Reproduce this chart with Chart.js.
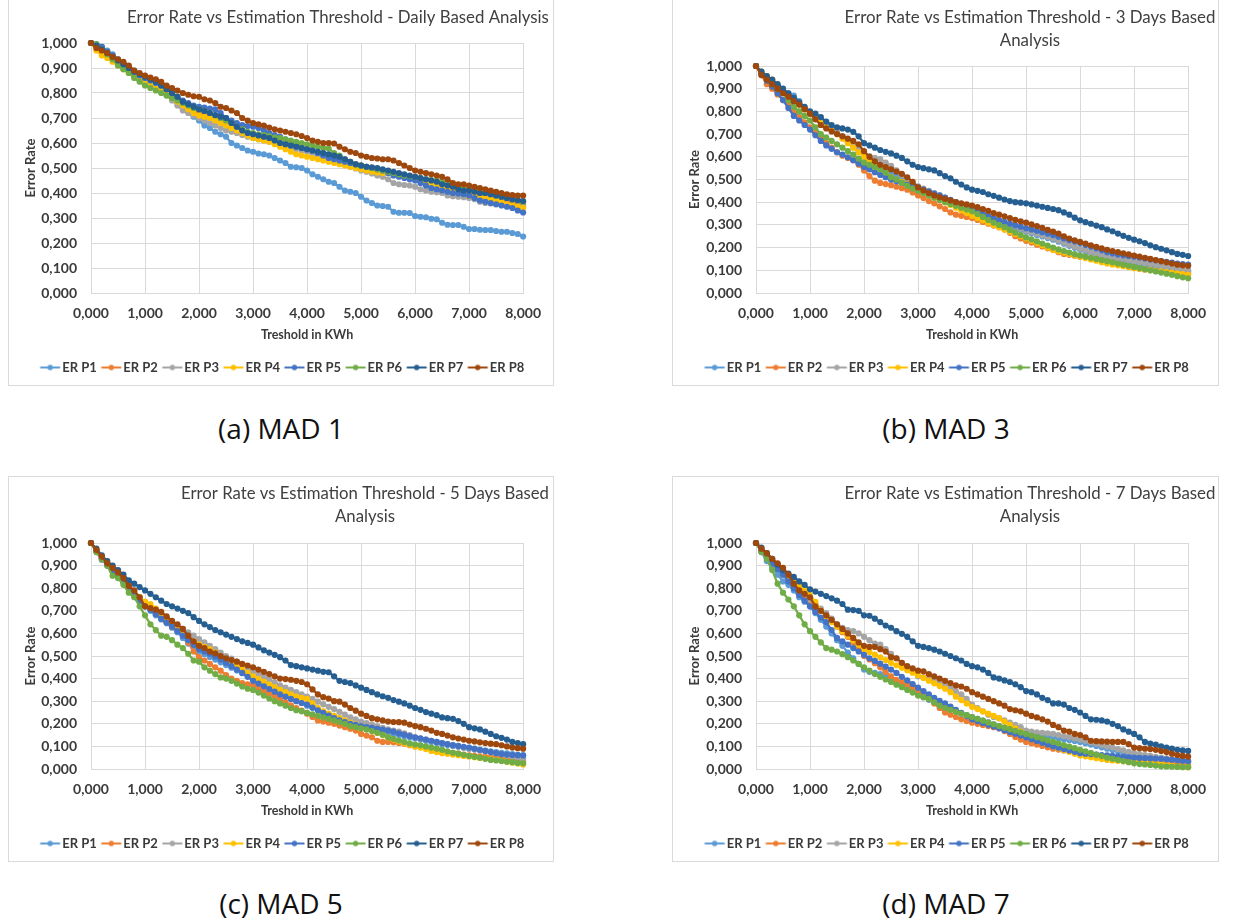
<!DOCTYPE html>
<html><head><meta charset="utf-8">
<script src="https://cdn.jsdelivr.net/npm/chart.js@4.4.1/dist/chart.umd.min.js"></script>
<style>
html,body{margin:0;padding:0;background:#fff;}
body{width:1240px;height:922px;overflow:hidden;position:relative;font-family:Lato,sans-serif}
.box{position:absolute;border:1px solid #d9d9d9;box-sizing:border-box;background:#fff}
.box canvas{position:absolute;left:0;top:0}
.cap{position:absolute;font-family:'Open Sans',sans-serif;font-size:28px;color:#111;transform:translate(-50%,-50%);white-space:nowrap}
</style></head><body>
<div class="box" style="left:8px;top:-1px;width:546px;height:387px"><canvas id="cA" width="544" height="385"></canvas></div>
<div class="box" style="left:672px;top:-1px;width:547px;height:387px"><canvas id="cB" width="545" height="385"></canvas></div>
<div class="box" style="left:8px;top:476px;width:546px;height:386px"><canvas id="cC" width="544" height="384"></canvas></div>
<div class="box" style="left:672px;top:476px;width:547px;height:386px"><canvas id="cD" width="545" height="384"></canvas></div>
<div class="cap" style="left:281px;top:428px">(a) MAD 1</div>
<div class="cap" style="left:946px;top:428px">(b) MAD 3</div>
<div class="cap" style="left:281px;top:903px">(c) MAD 5</div>
<div class="cap" style="left:946px;top:903px">(d) MAD 7</div>
<script>
// ---------- DATA ----------
const thresholds = [0,0.1,0.2,0.3,0.4,0.5,0.6,0.7,0.8,0.9,1,1.1,1.2,1.3,1.4,1.5,1.6,1.7,1.8,1.9,2,2.1,2.2,2.3,2.4,2.5,2.6,2.7,2.8,2.9,3,3.1,3.2,3.3,3.4,3.5,3.6,3.7,3.8,3.9,4,4.1,4.2,4.3,4.4,4.5,4.6,4.7,4.8,4.9,5,5.1,5.2,5.3,5.4,5.5,5.6,5.7,5.8,5.9,6,6.1,6.2,6.3,6.4,6.5,6.6,6.7,6.8,6.9,7,7.1,7.2,7.3,7.4,7.5,7.6,7.7,7.8,7.9,8];
const seriesNames = ['ER P1','ER P2','ER P3','ER P4','ER P5','ER P6','ER P7','ER P8'];
const xTickValues = [0,1,2,3,4,5,6,7,8];
const yTickValues = [0,0.1,0.2,0.3,0.4,0.5,0.6,0.7,0.8,0.9,1];
const titleA = ['Error Rate vs Estimation Threshold - Daily Based Analysis'];
const titleB = ['Error Rate vs Estimation Threshold - 3 Days Based','Analysis'];
const titleC = ['Error Rate vs Estimation Threshold - 5 Days Based','Analysis'];
const titleD = ['Error Rate vs Estimation Threshold - 7 Days Based','Analysis'];
const xAxisTitle = 'Treshold in KWh';
const yAxisTitle = 'Error Rate';

// MAD 1 (daily)
const mad1_p1 = [1.000,0.995,0.985,0.970,0.955,0.935,0.920,0.905,0.890,0.875,
0.860,0.850,0.835,0.820,0.805,0.790,0.770,0.745,0.725,0.705,
0.690,0.670,0.660,0.645,0.635,0.625,0.600,0.590,0.580,0.570,
0.565,0.558,0.555,0.550,0.540,0.530,0.520,0.505,0.503,0.500,
0.490,0.475,0.465,0.455,0.445,0.440,0.425,0.410,0.405,0.400,
0.385,0.370,0.360,0.350,0.348,0.345,0.325,0.321,0.321,0.320,
0.308,0.305,0.303,0.297,0.295,0.281,0.273,0.272,0.272,0.265,
0.256,0.256,0.253,0.252,0.252,0.248,0.245,0.245,0.240,0.236,0.226];
const mad1_p2 = [1.000,0.985,0.970,0.955,0.938,0.920,0.905,0.890,0.878,0.866,
0.855,0.845,0.835,0.822,0.805,0.785,0.770,0.755,0.742,0.730,
0.720,0.712,0.705,0.698,0.690,0.680,0.665,0.655,0.645,0.637,
0.630,0.625,0.620,0.615,0.608,0.600,0.595,0.588,0.580,0.575,
0.570,0.565,0.560,0.555,0.550,0.545,0.538,0.530,0.522,0.515,
0.510,0.505,0.500,0.495,0.490,0.485,0.480,0.475,0.470,0.465,
0.460,0.455,0.450,0.443,0.435,0.430,0.425,0.420,0.415,0.408,
0.400,0.395,0.390,0.385,0.380,0.375,0.370,0.365,0.360,0.358,0.355];
const mad1_p3 = [1.000,0.985,0.970,0.955,0.940,0.920,0.905,0.890,0.875,0.862,
0.850,0.835,0.820,0.805,0.790,0.770,0.750,0.730,0.720,0.710,
0.700,0.690,0.680,0.670,0.660,0.650,0.645,0.640,0.632,0.625,
0.620,0.615,0.610,0.605,0.600,0.595,0.590,0.582,0.575,0.570,
0.565,0.558,0.550,0.542,0.535,0.530,0.522,0.512,0.505,0.498,
0.490,0.485,0.478,0.470,0.465,0.455,0.440,0.435,0.432,0.430,
0.425,0.415,0.410,0.405,0.403,0.400,0.390,0.387,0.385,0.383,
0.380,0.375,0.365,0.360,0.358,0.355,0.352,0.350,0.348,0.346,0.345];
const mad1_p4 = [1.000,0.970,0.950,0.940,0.925,0.910,0.895,0.880,0.870,0.860,
0.850,0.840,0.830,0.815,0.795,0.780,0.765,0.750,0.735,0.720,
0.710,0.705,0.700,0.690,0.680,0.670,0.660,0.650,0.640,0.630,
0.620,0.615,0.610,0.605,0.595,0.585,0.575,0.565,0.555,0.550,
0.545,0.540,0.535,0.530,0.525,0.520,0.515,0.510,0.505,0.500,
0.495,0.490,0.485,0.482,0.480,0.480,0.475,0.470,0.465,0.460,
0.455,0.450,0.445,0.440,0.430,0.420,0.410,0.405,0.400,0.395,
0.390,0.385,0.382,0.378,0.374,0.370,0.362,0.355,0.350,0.345,0.340];
const mad1_p5 = [1.000,0.995,0.985,0.965,0.950,0.930,0.915,0.900,0.885,0.870,
0.860,0.850,0.840,0.830,0.815,0.800,0.785,0.770,0.760,0.750,
0.745,0.742,0.738,0.735,0.720,0.700,0.690,0.680,0.672,0.668,
0.665,0.660,0.650,0.640,0.632,0.625,0.615,0.600,0.590,0.582,
0.575,0.570,0.560,0.550,0.540,0.535,0.530,0.525,0.520,0.515,
0.510,0.505,0.500,0.495,0.490,0.480,0.470,0.465,0.460,0.455,
0.450,0.440,0.430,0.420,0.415,0.410,0.405,0.400,0.398,0.395,
0.390,0.380,0.370,0.365,0.360,0.355,0.350,0.345,0.340,0.330,0.322];
const mad1_p6 = [1.000,0.995,0.975,0.955,0.935,0.910,0.895,0.880,0.860,0.845,
0.830,0.820,0.810,0.800,0.790,0.780,0.770,0.760,0.750,0.740,
0.735,0.728,0.720,0.710,0.700,0.690,0.680,0.665,0.655,0.645,
0.640,0.635,0.632,0.628,0.622,0.620,0.615,0.610,0.605,0.600,
0.595,0.590,0.585,0.580,0.578,0.560,0.550,0.535,0.525,0.515,
0.510,0.505,0.500,0.495,0.490,0.485,0.480,0.475,0.470,0.468,
0.465,0.460,0.455,0.452,0.450,0.445,0.440,0.430,0.425,0.420,
0.415,0.410,0.405,0.400,0.395,0.390,0.385,0.380,0.375,0.370,0.365];
const mad1_p7 = [1.000,0.990,0.975,0.960,0.945,0.930,0.915,0.900,0.885,0.875,
0.865,0.855,0.845,0.830,0.815,0.800,0.785,0.765,0.755,0.745,
0.735,0.728,0.720,0.712,0.705,0.700,0.680,0.665,0.650,0.640,
0.635,0.630,0.625,0.620,0.610,0.600,0.595,0.590,0.585,0.580,
0.575,0.570,0.565,0.560,0.555,0.550,0.545,0.535,0.525,0.515,
0.510,0.505,0.503,0.500,0.495,0.490,0.485,0.480,0.475,0.470,
0.465,0.460,0.455,0.450,0.445,0.435,0.430,0.425,0.415,0.410,
0.410,0.405,0.400,0.400,0.395,0.390,0.385,0.380,0.375,0.372,0.368];
const mad1_p8 = [1.000,0.980,0.970,0.960,0.945,0.935,0.925,0.910,0.890,0.880,
0.870,0.862,0.855,0.845,0.830,0.820,0.810,0.800,0.793,0.787,
0.785,0.775,0.770,0.760,0.745,0.740,0.730,0.720,0.700,0.690,
0.680,0.675,0.670,0.662,0.655,0.650,0.645,0.640,0.635,0.628,
0.620,0.610,0.605,0.600,0.600,0.598,0.585,0.575,0.565,0.560,
0.550,0.545,0.540,0.538,0.535,0.535,0.530,0.520,0.510,0.500,
0.490,0.485,0.480,0.475,0.470,0.465,0.455,0.440,0.435,0.435,
0.430,0.425,0.420,0.415,0.410,0.405,0.400,0.395,0.392,0.390,0.390];

// MAD 3
const mad3_p1 = [1.000,0.970,0.950,0.935,0.915,0.890,0.880,0.870,0.845,0.815,
0.790,0.775,0.760,0.745,0.728,0.710,0.690,0.665,0.645,0.622,
0.600,0.585,0.572,0.558,0.544,0.530,0.516,0.502,0.488,0.474,
0.460,0.451,0.442,0.433,0.424,0.415,0.404,0.393,0.382,0.371,
0.360,0.350,0.340,0.330,0.320,0.310,0.302,0.294,0.286,0.278,
0.270,0.263,0.256,0.249,0.242,0.235,0.226,0.217,0.208,0.199,
0.190,0.183,0.176,0.169,0.162,0.155,0.150,0.145,0.140,0.135,
0.130,0.126,0.122,0.118,0.114,0.110,0.107,0.104,0.101,0.098,0.095];
const mad3_p2 = [1.000,0.960,0.920,0.900,0.875,0.850,0.825,0.800,0.775,0.752,
0.730,0.705,0.685,0.660,0.640,0.620,0.605,0.595,0.585,0.565,
0.540,0.515,0.495,0.485,0.480,0.475,0.468,0.462,0.455,0.443,
0.430,0.418,0.405,0.395,0.382,0.370,0.355,0.345,0.340,0.335,
0.330,0.322,0.313,0.305,0.297,0.290,0.280,0.265,0.250,0.240,
0.230,0.222,0.213,0.205,0.197,0.190,0.180,0.172,0.168,0.164,
0.160,0.156,0.152,0.148,0.144,0.140,0.135,0.128,0.120,0.115,
0.110,0.107,0.104,0.101,0.098,0.095,0.092,0.090,0.088,0.086,0.085];
const mad3_p3 = [1.000,0.975,0.955,0.935,0.910,0.890,0.870,0.850,0.830,0.810,
0.790,0.775,0.760,0.745,0.728,0.710,0.690,0.670,0.650,0.630,
0.610,0.603,0.595,0.590,0.575,0.560,0.540,0.520,0.500,0.485,
0.470,0.460,0.450,0.440,0.430,0.420,0.409,0.398,0.387,0.376,
0.365,0.356,0.347,0.338,0.329,0.320,0.311,0.302,0.293,0.284,
0.275,0.268,0.261,0.254,0.247,0.240,0.231,0.222,0.213,0.204,
0.195,0.188,0.181,0.174,0.167,0.160,0.156,0.152,0.148,0.144,
0.140,0.136,0.132,0.128,0.124,0.120,0.116,0.112,0.108,0.104,0.100];
const mad3_p4 = [1.000,0.975,0.955,0.940,0.915,0.890,0.870,0.850,0.830,0.810,
0.790,0.770,0.750,0.730,0.715,0.700,0.680,0.660,0.640,0.620,
0.600,0.582,0.565,0.547,0.528,0.510,0.500,0.490,0.480,0.470,
0.460,0.448,0.436,0.424,0.412,0.400,0.388,0.376,0.364,0.352,
0.340,0.330,0.320,0.310,0.300,0.290,0.280,0.270,0.260,0.250,
0.240,0.230,0.220,0.210,0.200,0.190,0.184,0.178,0.172,0.166,
0.160,0.154,0.148,0.142,0.136,0.130,0.126,0.122,0.118,0.114,
0.110,0.107,0.104,0.101,0.098,0.095,0.092,0.089,0.086,0.083,0.080];
const mad3_p5 = [1.000,0.965,0.935,0.910,0.880,0.850,0.815,0.780,0.760,0.740,
0.720,0.695,0.670,0.650,0.635,0.620,0.610,0.598,0.585,0.570,
0.555,0.545,0.532,0.520,0.510,0.500,0.492,0.485,0.478,0.472,
0.465,0.455,0.447,0.438,0.430,0.420,0.410,0.400,0.390,0.380,
0.370,0.360,0.350,0.340,0.330,0.320,0.313,0.305,0.298,0.292,
0.285,0.280,0.274,0.268,0.262,0.255,0.248,0.240,0.233,0.227,
0.220,0.212,0.204,0.196,0.188,0.180,0.175,0.170,0.166,0.163,
0.160,0.156,0.152,0.148,0.144,0.140,0.137,0.134,0.130,0.127,0.125];
const mad3_p6 = [1.000,0.970,0.945,0.920,0.900,0.880,0.850,0.820,0.800,0.780,
0.760,0.730,0.700,0.685,0.670,0.655,0.640,0.625,0.610,0.592,
0.575,0.565,0.555,0.545,0.530,0.510,0.500,0.485,0.472,0.460,
0.450,0.440,0.430,0.420,0.410,0.400,0.392,0.384,0.376,0.368,
0.360,0.348,0.335,0.322,0.310,0.300,0.290,0.278,0.266,0.255,
0.245,0.236,0.227,0.218,0.209,0.200,0.192,0.185,0.178,0.171,
0.165,0.160,0.155,0.150,0.145,0.140,0.135,0.130,0.125,0.120,
0.115,0.110,0.105,0.100,0.095,0.090,0.085,0.080,0.074,0.069,0.065];
const mad3_p7 = [1.000,0.975,0.955,0.940,0.920,0.900,0.880,0.860,0.840,0.820,
0.800,0.790,0.775,0.755,0.740,0.730,0.725,0.720,0.710,0.690,
0.660,0.650,0.640,0.630,0.622,0.615,0.605,0.595,0.580,0.565,
0.555,0.550,0.545,0.540,0.528,0.515,0.505,0.490,0.478,0.465,
0.455,0.450,0.445,0.435,0.428,0.420,0.412,0.405,0.400,0.398,
0.395,0.390,0.385,0.380,0.375,0.370,0.365,0.355,0.345,0.332,
0.320,0.312,0.305,0.297,0.290,0.280,0.272,0.262,0.252,0.243,
0.235,0.228,0.220,0.210,0.202,0.195,0.188,0.180,0.172,0.168,0.163];
const mad3_p8 = [1.000,0.960,0.940,0.920,0.900,0.880,0.865,0.845,0.830,0.810,
0.790,0.765,0.740,0.725,0.712,0.700,0.690,0.680,0.670,0.655,
0.625,0.600,0.580,0.565,0.555,0.545,0.535,0.525,0.510,0.490,
0.465,0.452,0.440,0.430,0.422,0.415,0.408,0.400,0.395,0.390,
0.385,0.378,0.370,0.362,0.352,0.345,0.338,0.330,0.322,0.316,
0.310,0.302,0.295,0.287,0.278,0.270,0.262,0.250,0.240,0.232,
0.225,0.218,0.210,0.203,0.197,0.190,0.185,0.180,0.175,0.170,
0.165,0.160,0.155,0.150,0.145,0.140,0.135,0.130,0.125,0.122,0.120];

// MAD 5
const mad5_p1 = [1.000,0.970,0.935,0.905,0.880,0.855,0.830,0.800,0.770,0.745,
0.720,0.700,0.680,0.662,0.645,0.625,0.605,0.580,0.555,0.535,
0.520,0.508,0.496,0.484,0.472,0.460,0.448,0.436,0.424,0.412,
0.400,0.388,0.376,0.364,0.352,0.340,0.328,0.316,0.304,0.292,
0.280,0.271,0.262,0.253,0.244,0.235,0.225,0.215,0.205,0.195,
0.185,0.180,0.175,0.170,0.165,0.160,0.155,0.150,0.145,0.140,
0.135,0.130,0.125,0.120,0.115,0.110,0.106,0.102,0.098,0.094,
0.090,0.087,0.084,0.081,0.078,0.075,0.072,0.069,0.066,0.063,0.060];
const mad5_p2 = [1.000,0.965,0.935,0.910,0.885,0.860,0.835,0.810,0.785,0.760,
0.740,0.720,0.695,0.670,0.650,0.630,0.615,0.600,0.560,0.520,
0.495,0.480,0.465,0.450,0.435,0.415,0.400,0.390,0.380,0.375,
0.370,0.358,0.345,0.335,0.322,0.310,0.295,0.282,0.270,0.258,
0.245,0.230,0.215,0.210,0.205,0.200,0.192,0.185,0.178,0.170,
0.155,0.148,0.140,0.125,0.120,0.120,0.118,0.115,0.112,0.105,
0.100,0.097,0.093,0.090,0.085,0.080,0.076,0.072,0.068,0.064,
0.060,0.058,0.056,0.054,0.052,0.050,0.047,0.044,0.041,0.038,0.035];
const mad5_p3 = [1.000,0.960,0.925,0.905,0.880,0.860,0.830,0.810,0.785,0.760,
0.730,0.715,0.700,0.690,0.670,0.650,0.635,0.620,0.605,0.590,
0.575,0.560,0.545,0.530,0.515,0.500,0.488,0.475,0.462,0.448,
0.430,0.420,0.408,0.396,0.383,0.370,0.360,0.350,0.340,0.330,
0.320,0.310,0.298,0.286,0.275,0.265,0.253,0.241,0.229,0.220,
0.210,0.203,0.196,0.189,0.182,0.175,0.170,0.165,0.158,0.150,
0.140,0.135,0.130,0.125,0.120,0.115,0.110,0.105,0.100,0.095,
0.090,0.086,0.082,0.078,0.074,0.070,0.065,0.060,0.055,0.050,0.045];
const mad5_p4 = [1.000,0.965,0.940,0.920,0.890,0.860,0.835,0.810,0.785,0.760,
0.740,0.730,0.710,0.685,0.660,0.640,0.620,0.600,0.580,0.565,
0.550,0.540,0.530,0.515,0.495,0.480,0.468,0.455,0.440,0.425,
0.410,0.398,0.386,0.374,0.362,0.350,0.340,0.330,0.320,0.315,
0.310,0.290,0.270,0.255,0.245,0.235,0.225,0.215,0.205,0.198,
0.190,0.180,0.170,0.160,0.150,0.140,0.130,0.122,0.114,0.107,
0.100,0.095,0.088,0.080,0.075,0.070,0.067,0.064,0.061,0.058,
0.055,0.052,0.049,0.046,0.043,0.040,0.036,0.032,0.028,0.024,0.020];
const mad5_p5 = [1.000,0.965,0.930,0.900,0.875,0.850,0.825,0.800,0.770,0.745,
0.720,0.705,0.685,0.665,0.648,0.630,0.610,0.590,0.570,0.550,
0.530,0.520,0.510,0.498,0.485,0.470,0.455,0.440,0.425,0.408,
0.390,0.378,0.366,0.354,0.342,0.330,0.320,0.310,0.300,0.292,
0.285,0.272,0.260,0.248,0.236,0.225,0.215,0.208,0.200,0.195,
0.190,0.185,0.182,0.178,0.174,0.170,0.165,0.158,0.152,0.146,
0.140,0.136,0.130,0.125,0.120,0.115,0.110,0.106,0.102,0.098,
0.095,0.090,0.085,0.080,0.075,0.070,0.066,0.064,0.062,0.061,0.060];
const mad5_p6 = [1.000,0.960,0.930,0.900,0.855,0.845,0.815,0.780,0.760,0.720,
0.680,0.640,0.615,0.590,0.585,0.570,0.550,0.535,0.510,0.480,
0.475,0.450,0.435,0.420,0.405,0.400,0.390,0.378,0.365,0.355,
0.350,0.338,0.325,0.312,0.300,0.290,0.280,0.270,0.260,0.255,
0.248,0.242,0.235,0.228,0.222,0.215,0.208,0.200,0.190,0.185,
0.180,0.175,0.168,0.160,0.152,0.140,0.133,0.126,0.120,0.113,
0.108,0.105,0.100,0.095,0.090,0.085,0.078,0.072,0.068,0.063,
0.058,0.054,0.050,0.045,0.040,0.038,0.035,0.032,0.030,0.027,0.025];
const mad5_p7 = [1.000,0.975,0.945,0.920,0.900,0.880,0.860,0.835,0.820,0.805,
0.790,0.775,0.760,0.745,0.730,0.720,0.710,0.700,0.690,0.672,
0.655,0.640,0.628,0.615,0.605,0.595,0.585,0.575,0.565,0.558,
0.550,0.538,0.525,0.515,0.505,0.495,0.480,0.460,0.455,0.450,
0.445,0.440,0.435,0.430,0.428,0.410,0.390,0.385,0.380,0.370,
0.360,0.350,0.340,0.330,0.322,0.315,0.305,0.298,0.290,0.280,
0.270,0.262,0.252,0.245,0.238,0.228,0.225,0.222,0.212,0.200,
0.185,0.180,0.175,0.165,0.155,0.145,0.138,0.130,0.120,0.115,0.110];
const mad5_p8 = [1.000,0.970,0.940,0.910,0.890,0.870,0.845,0.810,0.790,0.760,
0.720,0.712,0.705,0.695,0.675,0.655,0.640,0.620,0.590,0.565,
0.545,0.535,0.520,0.512,0.500,0.490,0.482,0.475,0.465,0.458,
0.450,0.440,0.430,0.420,0.410,0.400,0.398,0.395,0.390,0.385,
0.375,0.352,0.330,0.318,0.312,0.300,0.298,0.285,0.270,0.258,
0.245,0.235,0.225,0.220,0.215,0.210,0.208,0.207,0.205,0.197,
0.190,0.185,0.178,0.170,0.160,0.155,0.148,0.140,0.135,0.130,
0.125,0.122,0.118,0.115,0.112,0.110,0.105,0.100,0.095,0.092,0.090];

// MAD 7
const mad7_p1 = [1.000,0.960,0.920,0.890,0.860,0.830,0.815,0.790,0.760,0.740,
0.720,0.690,0.660,0.630,0.600,0.570,0.545,0.515,0.490,0.465,
0.440,0.430,0.425,0.420,0.410,0.400,0.386,0.372,0.358,0.344,
0.330,0.318,0.306,0.294,0.282,0.270,0.262,0.254,0.246,0.238,
0.230,0.222,0.214,0.206,0.198,0.190,0.184,0.178,0.172,0.166,
0.160,0.156,0.152,0.148,0.144,0.140,0.136,0.132,0.128,0.124,
0.120,0.114,0.108,0.102,0.096,0.090,0.084,0.078,0.072,0.066,
0.060,0.057,0.054,0.051,0.048,0.045,0.042,0.039,0.036,0.033,0.030];
const mad7_p2 = [1.000,0.970,0.945,0.920,0.890,0.860,0.840,0.810,0.785,0.762,
0.740,0.720,0.700,0.680,0.655,0.630,0.605,0.585,0.560,0.530,
0.500,0.485,0.468,0.450,0.430,0.410,0.395,0.385,0.370,0.360,
0.350,0.330,0.310,0.290,0.270,0.250,0.240,0.230,0.220,0.212,
0.205,0.200,0.195,0.190,0.185,0.180,0.168,0.155,0.142,0.130,
0.120,0.114,0.108,0.102,0.096,0.090,0.086,0.082,0.078,0.074,
0.070,0.066,0.062,0.058,0.054,0.050,0.047,0.044,0.041,0.038,
0.035,0.033,0.031,0.029,0.027,0.025,0.023,0.021,0.019,0.017,0.015];
const mad7_p3 = [1.000,0.975,0.950,0.925,0.900,0.880,0.855,0.825,0.800,0.775,
0.750,0.730,0.710,0.690,0.665,0.640,0.625,0.615,0.610,0.600,
0.585,0.570,0.555,0.550,0.530,0.510,0.490,0.470,0.450,0.430,
0.410,0.405,0.400,0.392,0.380,0.370,0.360,0.345,0.330,0.310,
0.285,0.270,0.255,0.240,0.230,0.225,0.215,0.205,0.195,0.185,
0.170,0.165,0.162,0.160,0.158,0.155,0.150,0.145,0.140,0.135,
0.130,0.125,0.118,0.112,0.106,0.100,0.095,0.088,0.082,0.076,
0.070,0.066,0.062,0.058,0.054,0.050,0.047,0.044,0.041,0.038,0.035];
const mad7_p4 = [1.000,0.970,0.945,0.920,0.895,0.870,0.850,0.830,0.810,0.790,
0.770,0.740,0.700,0.675,0.650,0.630,0.610,0.590,0.570,0.550,
0.530,0.518,0.506,0.494,0.482,0.470,0.459,0.448,0.437,0.426,
0.415,0.403,0.391,0.379,0.367,0.355,0.340,0.320,0.305,0.290,
0.275,0.265,0.255,0.245,0.235,0.225,0.210,0.195,0.180,0.165,
0.150,0.140,0.130,0.120,0.110,0.100,0.092,0.084,0.076,0.068,
0.060,0.056,0.052,0.048,0.044,0.040,0.038,0.036,0.034,0.032,
0.030,0.028,0.026,0.024,0.022,0.020,0.017,0.014,0.011,0.009,0.008];
const mad7_p5 = [1.000,0.965,0.935,0.910,0.885,0.860,0.830,0.800,0.770,0.745,
0.720,0.695,0.670,0.650,0.615,0.580,0.565,0.550,0.535,0.520,
0.505,0.490,0.478,0.466,0.453,0.440,0.425,0.408,0.392,0.376,
0.360,0.345,0.330,0.315,0.302,0.290,0.276,0.262,0.248,0.234,
0.220,0.212,0.204,0.196,0.188,0.180,0.172,0.164,0.156,0.148,
0.140,0.132,0.124,0.116,0.108,0.100,0.094,0.088,0.082,0.076,
0.070,0.068,0.066,0.064,0.062,0.060,0.058,0.056,0.054,0.052,
0.050,0.049,0.048,0.047,0.046,0.045,0.043,0.041,0.039,0.037,0.035];
const mad7_p6 = [1.000,0.960,0.930,0.880,0.820,0.780,0.750,0.720,0.680,0.640,
0.610,0.585,0.560,0.535,0.528,0.520,0.508,0.495,0.480,0.465,
0.450,0.435,0.420,0.408,0.396,0.385,0.373,0.362,0.350,0.338,
0.325,0.318,0.310,0.295,0.280,0.270,0.262,0.253,0.245,0.238,
0.230,0.222,0.214,0.206,0.198,0.190,0.183,0.176,0.169,0.162,
0.155,0.148,0.141,0.134,0.127,0.120,0.113,0.106,0.099,0.092,
0.085,0.078,0.071,0.064,0.057,0.050,0.045,0.040,0.035,0.030,
0.025,0.022,0.020,0.018,0.015,0.012,0.011,0.010,0.009,0.008,0.008];
const mad7_p7 = [1.000,0.980,0.955,0.930,0.905,0.880,0.865,0.850,0.830,0.815,
0.795,0.785,0.775,0.765,0.755,0.745,0.730,0.705,0.703,0.700,
0.680,0.678,0.665,0.650,0.635,0.625,0.610,0.598,0.585,0.565,
0.545,0.540,0.535,0.528,0.520,0.510,0.500,0.490,0.480,0.465,
0.455,0.450,0.440,0.425,0.405,0.400,0.392,0.385,0.375,0.362,
0.345,0.340,0.330,0.315,0.305,0.290,0.290,0.285,0.270,0.262,
0.250,0.235,0.220,0.218,0.215,0.210,0.200,0.190,0.175,0.165,
0.155,0.140,0.120,0.112,0.108,0.100,0.095,0.090,0.085,0.082,0.080];
const mad7_p8 = [1.000,0.975,0.955,0.930,0.910,0.890,0.860,0.820,0.790,0.775,
0.760,0.720,0.700,0.680,0.660,0.640,0.620,0.600,0.580,0.560,
0.545,0.540,0.540,0.530,0.520,0.495,0.490,0.470,0.455,0.445,
0.435,0.432,0.420,0.410,0.400,0.390,0.380,0.370,0.365,0.355,
0.340,0.330,0.320,0.310,0.300,0.290,0.280,0.265,0.260,0.255,
0.245,0.235,0.228,0.220,0.210,0.195,0.185,0.170,0.165,0.155,
0.150,0.140,0.125,0.123,0.122,0.121,0.120,0.120,0.120,0.110,
0.095,0.092,0.090,0.088,0.085,0.080,0.075,0.068,0.062,0.058,0.055];

// ---------- STYLE ----------
const seriesColors = ['#5B9BD5','#ED7D31','#A5A5A5','#FFC000','#4472C4','#70AD47','#255E91','#9E480E'];
const TEXT = '#3a3a3a', GRID = '#d9d9d9';
Chart.defaults.font.family = 'Lato, "Open Sans", sans-serif';
Chart.defaults.color = TEXT;

function fmt(v){ return Number(v).toFixed(3).replace('.', ','); }

// legend symbol: short line with a dot; drawn off-centre inside a wider canvas so it sits near its own label
function makeIcon(color){
  const c = document.createElement('canvas'); c.width = 36; c.height = 8;
  const g = c.getContext('2d');
  g.strokeStyle = color; g.lineWidth = 2;
  g.beginPath(); g.moveTo(11.5,4); g.lineTo(31.5,4); g.stroke();
  g.fillStyle = color; g.beginPath(); g.arc(21.5,4,2.7,0,Math.PI*2); g.fill();
  return c;
}
const icons = seriesColors.map(makeIcon);

const titlePlugin = {
  id: 'panelTitle',
  afterDraw(chart, args, o){
    const ctx = chart.ctx; ctx.save();
    ctx.font = '400 16px Lato';
    const w = ctx.measureText(o.lines[0]).width;
    const size = 16 * o.width / w;
    ctx.font = '400 ' + size.toFixed(2) + 'px Lato';
    ctx.fillStyle = '#3f3f3f'; ctx.textAlign = 'center'; ctx.textBaseline = 'middle';
    o.lines.forEach((t, i) => ctx.fillText(t, o.x, o.ys[i]));
    ctx.restore();
  }
};

const PAD_L = 14, PAD_R = 14;
function buildChart(id, series, titleLines, geo){
  const canvas = document.getElementById(id);
  const W = canvas.width, H = canvas.height;
  const PAD_B = 1;
  const datasets = series.map((vals, i) => ({
    label: seriesNames[i],
    data: thresholds.map((t, j) => ({x: t, y: vals[j]})),
    borderColor: seriesColors[i],
    backgroundColor: seriesColors[i],
    borderWidth: 2.25,
    pointRadius: 3.1,
    pointBorderWidth: 0,
    pointBackgroundColor: seriesColors[i],
    tension: 0,
    order: 8 - i,
    clip: false
  }));
  return new Chart(canvas, {
    type: 'line',
    data: { datasets },
    plugins: [titlePlugin],
    options: {
      responsive: false, animation: false, devicePixelRatio: 1,
      layout: { padding: { left: PAD_L, right: PAD_R, top: geo.top, bottom: PAD_B } },
      plugins: {
        tooltip: { enabled: false },
        panelTitle: { lines: titleLines, x: geo.tx, ys: geo.ty, width: geo.tw },
        legend: {
          position: 'bottom',
          labels: {
            usePointStyle: true, pointStyleWidth: 18, padding: 2,
            font: { size: 13, weight: 'bold' }, color: TEXT,
            sort: (a, b) => a.datasetIndex - b.datasetIndex,
            generateLabels(chart){
              const items = Chart.defaults.plugins.legend.labels.generateLabels(chart);
              items.forEach(it => { it.pointStyle = icons[it.datasetIndex]; });
              return items;
            }
          }
        }
      },
      scales: {
        x: {
          type: 'linear', min: 0, max: 8,
          afterBuildTicks(s){ s.ticks = xTickValues.map(v => ({value: v})); },
          afterFit(s){ const lh = s.chart.legend ? s.chart.legend.height : 26; s.height = H - PAD_B - lh - geo.bottom; },
          grid: { color: GRID, lineWidth: 1, drawTicks: false },
          border: { color: GRID, width: 1 },
          ticks: { padding: 12, maxRotation: 0, autoSkip: false, font: { size: 14, weight: 'bold' }, color: TEXT, callback: v => fmt(v) },
          title: { display: true, text: xAxisTitle, font: { size: 12.5, weight: 'bold' }, color: TEXT, padding: { top: 0, bottom: 17 } }
        },
        y: {
          type: 'linear', min: 0, max: 1,
          afterBuildTicks(s){ s.ticks = yTickValues.map(v => ({value: v})); },
          afterFit(s){ s.width = geo.left - PAD_L; },
          grid: { color: GRID, lineWidth: 1, drawTicks: false },
          border: { color: GRID, width: 1 },
          ticks: { padding: 14, autoSkip: false, font: { size: 14, weight: 'bold' }, color: TEXT, callback: v => fmt(v) },
          title: { display: true, text: yAxisTitle, font: { size: 13, weight: 'bold' }, color: TEXT, padding: { top: 0, bottom: 0 } }
        },
        yR: {
          type: 'linear', position: 'right', min: 0, max: 1, display: true,
          afterFit(s){ s.width = W - geo.right - PAD_R; },
          grid: { display: false, drawOnChartArea: false, drawTicks: false },
          border: { display: false },
          ticks: { display: false },
          title: { display: false }
        }
      }
    }
  });
}

buildChart('cA', [mad1_p1,mad1_p2,mad1_p3,mad1_p4,mad1_p5,mad1_p6,mad1_p7,mad1_p8], titleA,
  { left: 82, right: 516, top: 43, bottom: 293, tx: 329, ty: [18], tw: 422 });
buildChart('cB', [mad3_p1,mad3_p2,mad3_p3,mad3_p4,mad3_p5,mad3_p6,mad3_p7,mad3_p8], titleB,
  { left: 83, right: 517, top: 66, bottom: 293, tx: 357, ty: [18, 41], tw: 371 });
buildChart('cC', [mad5_p1,mad5_p2,mad5_p3,mad5_p4,mad5_p5,mad5_p6,mad5_p7,mad5_p8], titleC,
  { left: 82, right: 516, top: 66, bottom: 292, tx: 356, ty: [17, 40], tw: 368 });
buildChart('cD', [mad7_p1,mad7_p2,mad7_p3,mad7_p4,mad7_p5,mad7_p6,mad7_p7,mad7_p8], titleD,
  { left: 83, right: 517, top: 66, bottom: 292, tx: 357, ty: [17, 40], tw: 371 });
</script>
</body></html>
